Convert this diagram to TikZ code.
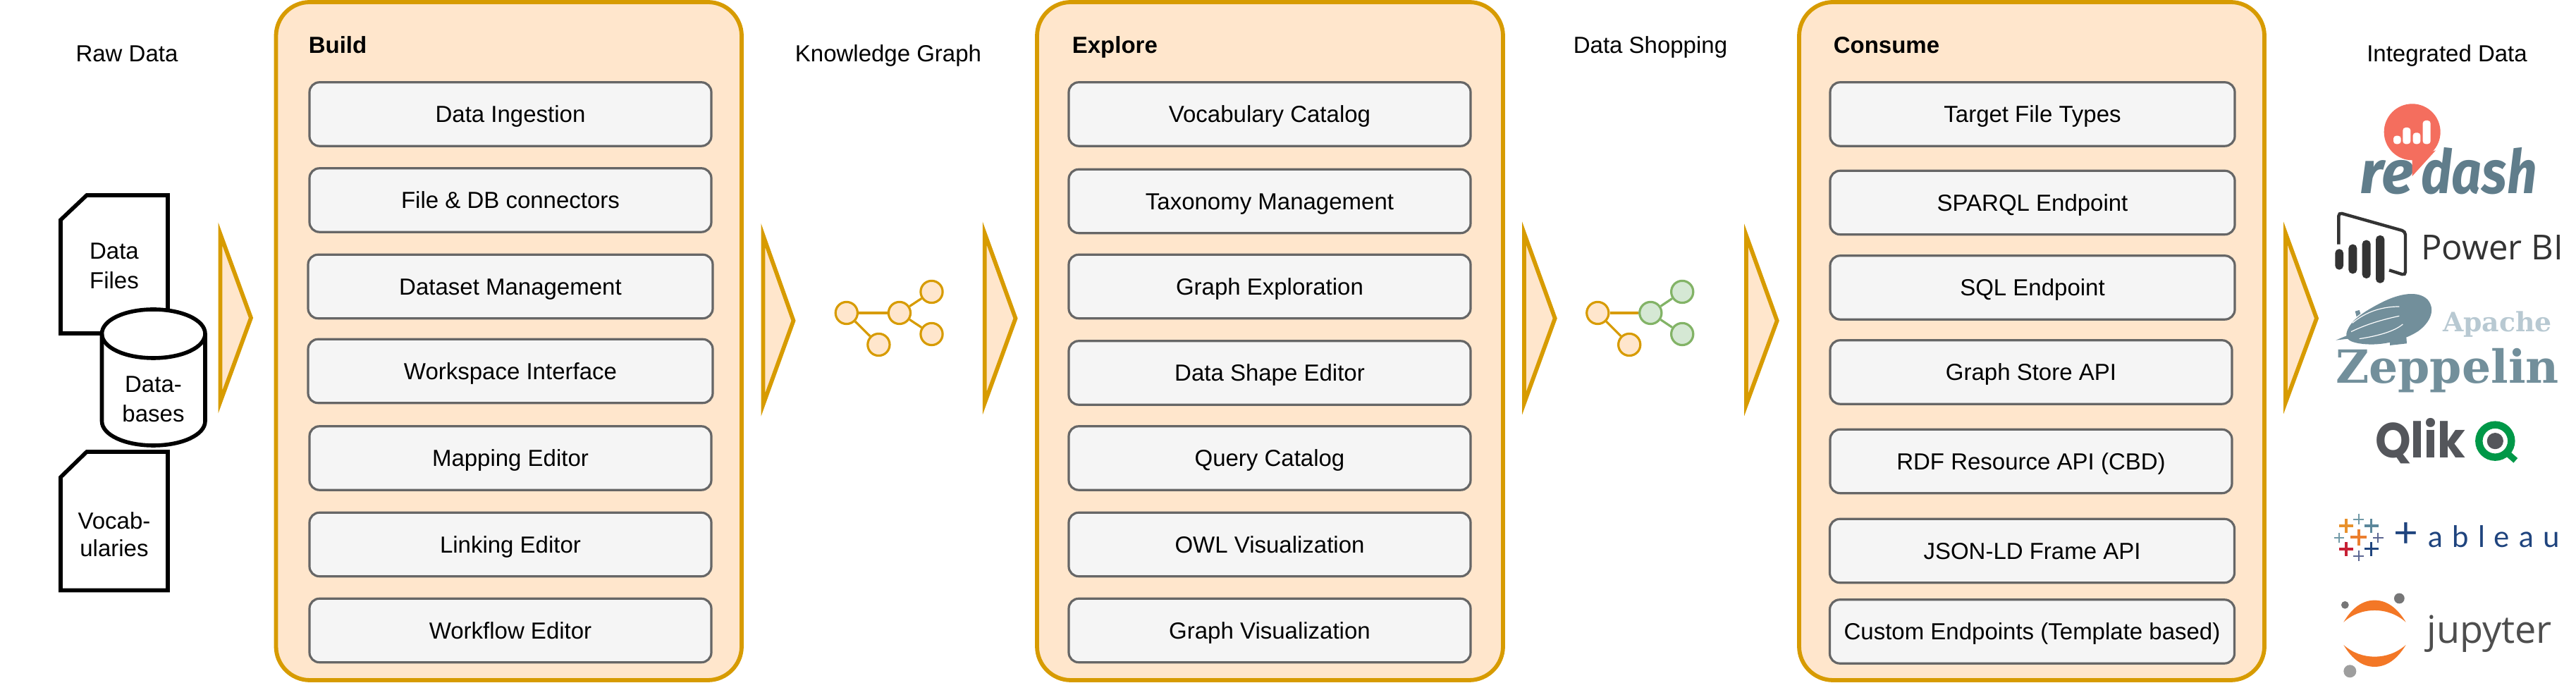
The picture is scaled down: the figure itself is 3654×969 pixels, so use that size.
\documentclass[tikz,border=0pt]{standalone}
\usepackage{fontspec}
\setmainfont{Liberation Sans}
\newfontfamily\dvserif{DejaVu Serif}
\newfontfamily\firafont{Fira Sans}
\newfontfamily\opensans{Open Sans}
\newfontfamily\poppins{Poppins}
\newfontfamily\latofont{Lato}
\definecolor{ob}{HTML}{FFE6CC}
\definecolor{od}{HTML}{D79B00}
\definecolor{gb}{HTML}{D5E8D4}
\definecolor{gd}{HTML}{82B366}
\definecolor{ib}{HTML}{F5F5F5}
\definecolor{id}{HTML}{666666}
\definecolor{rcoral}{HTML}{F46E5E}
\definecolor{rslate}{HTML}{607D8B}
\definecolor{pbi}{HTML}{333333}
\definecolor{zep}{HTML}{728F9B}
\definecolor{zepl}{HTML}{B8C9D2}
\definecolor{qgrey}{HTML}{54565B}
\definecolor{qgreen}{HTML}{009848}
\definecolor{tnavy}{HTML}{1F447E}
\definecolor{torange}{HTML}{E8912C}
\definecolor{torb}{HTML}{EB7F2F}
\definecolor{tteal}{HTML}{7099A6}
\definecolor{tteb}{HTML}{5B879B}
\definecolor{tpurp}{HTML}{5C6692}
\definecolor{tred}{HTML}{C72035}
\definecolor{jor}{HTML}{F37726}
\definecolor{jgr}{HTML}{767677}
\definecolor{jgl}{HTML}{9E9E9E}
\definecolor{jtx}{HTML}{4E4E4E}
\tikzset{
  lab/.style={inner sep=0pt,font=\fontsize{8.25}{10.5}\selectfont,text height=5.9pt,text depth=0pt},
  hd/.style={lab,font=\fontsize{8.25}{10.5}\selectfont\bfseries,anchor=west},
  panel/.style={draw=od,fill=ob,line width=1.45pt,rounded corners=12pt},
  item/.style={lab,draw=id,fill=ib,line width=.8pt,rounded corners=3.5pt,minimum width=142.5pt,minimum height=22.6pt},
  itemw/.style={item,minimum width=143.5pt},
  tri/.style={draw=od,fill=ob,line width=1.45pt,miter limit=10},
  docshape/.style={draw=black,fill=white,line width=1.4pt},
  ml/.style={inner sep=0pt,align=center,font=\fontsize{8.25}{10.5}\selectfont},
  gnode/.style={circle,draw=od,fill=ob,line width=.8pt,minimum size=7.8pt,inner sep=0pt},
  gnodeg/.style={gnode,draw=gd,fill=gb},
  gedge/.style={draw=od,line width=.8pt},
  gedgeg/.style={draw=gd,line width=.8pt},
  logo/.style={inner sep=0pt,anchor=base west},
}
\begin{document}
\begin{tikzpicture}[x=0.25pt,y=-0.25pt]
\useasboundingbox (0,0) rectangle (3654,969);

% headings
\node[lab] (rawdata) at (180,76) {Raw Data};
\node[lab] (kg) at (1260,76) {Knowledge Graph};
\node[lab] (shop) at (2341,64) {Data Shopping};
\node[lab] (integ) at (3471,76) {Integrated Data};

% raw data shapes
\path[docshape] (86,312) -- (123,277) -- (238,277) -- (238,473) -- (86,473) -- cycle;
\node[ml] (files) at (162,377) {Data\\Files};
\path[docshape] (144.5,473.5) -- (144.5,597.5) .. controls (144.5,617) and (177,632) .. (217.5,632)
  .. controls (258,632) and (291,617) .. (291,597.5) -- (291,473.5)
  .. controls (291,454) and (258,439) .. (217.5,439) .. controls (177,439) and (144.5,454) .. (144.5,473.5) -- cycle;
\draw[black,line width=1.4pt] (144.5,473.5) .. controls (144.5,493) and (177,508) .. (217.5,508) .. controls (258,508) and (291,493) .. (291,473.5);
\node[ml] (dbs) at (217.5,566) {Data-\\bases};
\path[docshape] (86,677) -- (123,641) -- (238,641) -- (238,837.5) -- (86,837.5) -- cycle;
\node[ml,font=\fontsize{8.25}{9.8}\selectfont] (vocab) at (162,758) {Vocab-\\ularies};

% triangles
\path[tri] (312.5,332) -- (312.5,570) -- (356,451) -- cycle;
\path[tri] (1082.5,334) -- (1082.5,574) -- (1125.5,455) -- cycle;
\path[tri] (1396.7,331) -- (1396.7,572) -- (1440.5,451.7) -- cycle;
\path[tri] (2162,331) -- (2162,572) -- (2205.7,451.7) -- cycle;
\path[tri] (2477,334) -- (2477,574) -- (2520.7,455) -- cycle;
\path[tri] (3242,331) -- (3242,571) -- (3286,451.7) -- cycle;

% panels
\path[panel] (391.5,3) rectangle (1052,965);
\path[panel] (1471,3) rectangle (2132,965);
\path[panel] (2552,3) rectangle (3212,965);
\node[hd] (build) at (437,64) {Build};
\node[hd] (explore) at (1520,64) {Explore};
\node[hd] (consume) at (2600,64) {Consume};

% Build
\node[item] (b1) at (724,162) {Data Ingestion};
\node[item] (b2) at (724,284) {File \& DB connectors};
\node[itemw] (b3) at (724,406.5) {Dataset Management};
\node[itemw] (b4) at (724,526.5) {Workspace Interface};
\node[item] (b5) at (724,650) {Mapping Editor};
\node[item] (b6) at (724,772.5) {Linking Editor};
\node[item] (b7) at (724,894.5) {Workflow Editor};
% Explore
\node[item] (e1) at (1801,162) {Vocabulary Catalog};
\node[item] (e2) at (1801,285.5) {Taxonomy Management};
\node[item] (e3) at (1801,406.5) {Graph Exploration};
\node[item] (e4) at (1801,529) {Data Shape Editor};
\node[item] (e5) at (1801,650) {Query Catalog};
\node[item] (e6) at (1801,772.5) {OWL Visualization};
\node[item] (e7) at (1801,894.5) {Graph Visualization};
% Consume
\node[itemw] (c1) at (2883,162) {Target File Types};
\node[itemw] (c2) at (2883,287.5) {SPARQL Endpoint};
\node[itemw] (c3) at (2883,408) {SQL Endpoint};
\node[item] (c4) at (2881,528) {Graph Store API};
\node[item] (c5) at (2881,654.5) {RDF Resource API (CBD)};
\node[itemw] (c6) at (2882.5,781.5) {JSON-LD Frame API};
\node[itemw] (c7) at (2882.5,896) {Custom Endpoints (Template based)};

% knowledge graph icon
\node[gnode] (ka) at (1200.8,444) {};
\node[gnode] (kb) at (1275.9,444) {};
\node[gnode] (kc) at (1321.5,414) {};
\node[gnode] (kd) at (1321.5,474) {};
\node[gnode] (ke) at (1246.4,489) {};
\draw[gedge,line width=1.1pt] (ka) -- (kb);
\draw[gedge] (kb) -- (kc);
\draw[gedge] (kb) -- (kd);
\draw[gedge] (ka) -- (ke);

% data shopping icon
\node[gnode] (sa) at (2266.3,444) {};
\node[gnodeg] (sb) at (2341.3,444) {};
\node[gnodeg] (sc) at (2386.2,414) {};
\node[gnodeg] (sd) at (2386.2,474) {};
\node[gnode] (se) at (2311.2,489) {};
\draw[gedge,line width=1.1pt] (sa) -- (sb);
\draw[gedgeg] (sb) -- (sc);
\draw[gedgeg] (sb) -- (sd);
\draw[gedge] (sa) -- (se);

% logos, upper
\begin{scope}[shift={(3200,0)},x=0.08333pt,y=-0.08333pt]
  % redash
  \node[logo,text=rslate,font=\firafont\fontsize{21.5}{22}\selectfont\bfseries\itshape] (re) at (440,825) {re};
  \node[logo,text=rslate,font=\firafont\fontsize{21.5}{22}\selectfont\bfseries\itshape] (dash) at (700,825) {\scalebox{.87}[1]{dash}};
  \fill[rcoral] (665,562) circle [radius=10pt];
  \fill[rcoral] (665,670) -- (665,750) -- (765,640) -- cycle;
  \fill[white,rounded corners=1pt] (585,578) rectangle (617,613);
  \fill[white,rounded corners=1pt] (625,543) rectangle (658,613);
  \fill[white,rounded corners=1pt] (668,565) rectangle (700,613);
  \fill[white,rounded corners=1pt] (710,513) rectangle (743,613);
  % power bi
  \draw[pbi,line width=1.1pt,rounded corners=1.2pt] (352,1040) -- (352,905) -- (636,985) -- (636,1172) -- (567,1150);
  \fill[pbi,rounded corners=1.4pt] (337,1060) rectangle (372,1148);
  \fill[pbi,rounded corners=1.4pt] (394,1040) rectangle (430,1165);
  \fill[pbi,rounded corners=1.4pt] (452,1022) rectangle (488,1185);
  \fill[pbi,rounded corners=1.4pt] (510,1002) rectangle (547,1205);
  \node[logo,text=pbi,font=\opensans\fontsize{12.25}{13}\selectfont] (powerbi) at (700,1105) {Power BI};
  % zeppelin
  \fill[zep] (385,1420) .. controls (395,1370) and (450,1330) .. (540,1285)
    .. controls (610,1250) and (690,1235) .. (730,1275)
    .. controls (765,1315) and (745,1370) .. (690,1410)
    .. controls (620,1455) and (520,1475) .. (440,1462)
    .. controls (400,1455) and (382,1445) .. (385,1420) -- cycle;
  \fill[zep] (340,1448) -- (388,1428) -- (392,1442) -- cycle;
  \fill[zep] (422,1325) -- (440,1320) -- (445,1335) -- (428,1348) -- cycle;
  \draw[white,line width=.3pt] (410,1375) .. controls (470,1325) and (540,1305) .. (610,1305);
  \draw[white,line width=.3pt] (405,1412) .. controls (470,1380) and (540,1360) .. (610,1345);
  \draw[white,line width=.3pt] (440,1442) .. controls (520,1430) and (590,1410) .. (625,1380);
  \fill[zep] (570,1450) -- (640,1435) -- (642,1462) -- (570,1470) -- cycle;
  \node[logo,text=zepl,font=\dvserif\fontsize{9.45}{10}\selectfont\bfseries] (apache) at (793,1412) {Apache};
\end{scope}

% logos, lower
\begin{scope}[shift={(3200,500)},x=0.08333pt,y=-0.08333pt]
  \node[logo,text=zep,font=\dvserif\fontsize{16.2}{17}\selectfont\bfseries] (zeppelin) at (337,130) {Zeppelin};
  % qlik
  \node[logo,text=qgrey,font=\poppins\fontsize{17.5}{18}\selectfont\bfseries] (qlik) at (505,450) {\scalebox{.92}[1]{Qlik}};
  \draw[qgreen,line width=2.6pt] (1018,377) circle [radius=5.75pt];
  \fill[qgrey] (1018,377) circle [radius=2.9pt];
  \draw[qgreen,line width=2.2pt] (1065,425) -- (1105,460);
  % tableau
  \foreach \cx/\cy/\ar/\lw/\co in {384/738/30/.85/torange,437/710/22/.55/tteal,491/738/30/.85/tteb,
     354/789/21/.55/tteal,437/787/34/.95/torb,520/789/22/.55/tpurp,384/837/30/.85/tred,
     491/836/30/.85/tnavy,437/866/22/.55/tpurp}{
    \draw[\co,line width=\lw pt] (\cx-\ar,\cy) -- (\cx+\ar,\cy) (\cx,\cy-\ar) -- (\cx,\cy+\ar);
  }
  \node[logo,text=tnavy,font=\latofont\fontsize{15}{16}\selectfont] (tableau) at (585,830) {+{\fontsize{10.5}{12}\selectfont\addfontfeatures{LetterSpace=31}\,\,ableau}};
  % jupyter
  \fill[jor] (373,1148) .. controls (410,1085) and (455,1055) .. (505,1055) .. controls (555,1055) and (600,1085) .. (638,1148)
     .. controls (600,1115) and (555,1098) .. (505,1098) .. controls (455,1098) and (410,1115) .. (373,1148) -- cycle;
  \fill[jor] (373,1245) .. controls (410,1308) and (455,1338) .. (505,1338) .. controls (555,1338) and (600,1308) .. (638,1245)
     .. controls (600,1278) and (555,1295) .. (505,1295) .. controls (455,1295) and (410,1278) .. (373,1245) -- cycle;
  \fill[jgr] (379,1075) circle [radius=1.35pt];
  \fill[jgr] (610,1047) circle [radius=1.85pt];
  \fill[jgl] (400,1357) circle [radius=2.25pt];
  \node[logo,text=jtx,font=\opensans\fontsize{13.5}{14}\selectfont] (jupyter) at (725,1238) {jupyter};
\end{scope}
\end{tikzpicture}
\end{document}
